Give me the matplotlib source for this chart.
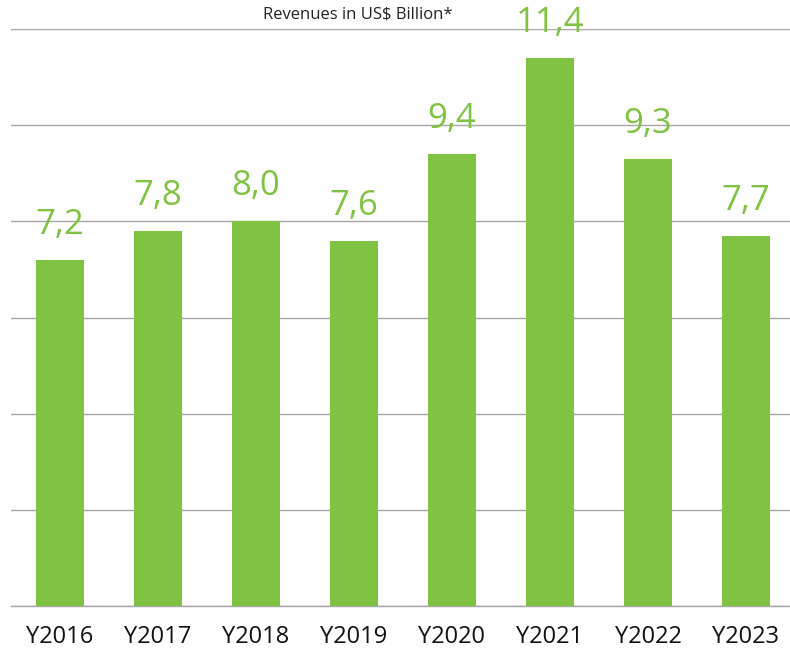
import matplotlib
matplotlib.use("Agg")
import matplotlib.pyplot as plt

categories = ["Y2016", "Y2017", "Y2018", "Y2019", "Y2020", "Y2021", "Y2022", "Y2023"]
revenues = [7.2, 7.8, 8.0, 7.6, 9.4, 11.4, 9.3, 7.7]
value_labels = ["7,2", "7,8", "8,0", "7,6", "9,4", "11,4", "9,3", "7,7"]
title = "Revenues in US$ Billion*"

green = "#80C342"
grid = "#A6A6A6"
plt.rcParams['font.family'] = ['Open Sans', 'DejaVu Sans']

fig = plt.figure(figsize=(7.9, 6.52), dpi=100)
ax = fig.add_axes([11/790, 46/652, 784/790, (606-29)/652])
x = list(range(len(categories)))
ax.bar(x, revenues, width=0.49, color=green, zorder=3)
ax.set_xlim(-0.5, len(categories) - 0.5)
ax.set_ylim(0, 12)
ax.set_yticks([0, 2, 4, 6, 8, 10, 12])
ax.yaxis.grid(True, color=grid, linewidth=1.0, zorder=0)
ax.tick_params(axis='y', length=0, labelleft=False)
ax.tick_params(axis='x', length=0, pad=14, labelsize=17, labelcolor="#111111")
ax.set_xticks(x)
ax.set_xticklabels(categories)
for s in ["top", "right", "left"]:
    ax.spines[s].set_visible(False)
ax.spines["bottom"].set_color(grid)
ax.spines["bottom"].set_linewidth(1.0)
for xi, v, lab in zip(x, revenues, value_labels):
    ax.annotate(lab, (xi, v), xytext=(0, 13), textcoords="offset points",
                ha="center", va="bottom", fontsize=25, color=green)
fig.text(358/790, 1 - 15/652, title, ha="center", va="center", fontsize=12,
         color="#222222")
fig.savefig("out.png", dpi=100)
